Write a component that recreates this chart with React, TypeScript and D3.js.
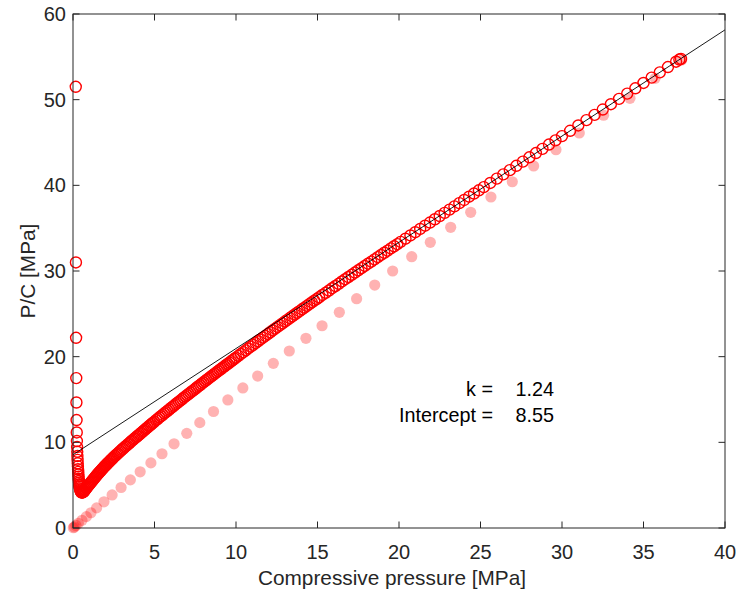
import React from "react";
import * as d3 from "d3";

// Open red circles: P/C vs compressive pressure
const pressure: number[] = [
  0.17, 0.18, 0.19, 0.2, 0.21, 0.22, 0.23, 0.24, 0.25, 0.26, 0.27, 0.28, 0.29, 0.3, 0.31, 0.32, 0.33, 0.34, 0.35, 0.36,
  0.37, 0.38, 0.39, 0.4, 0.42, 0.44, 0.46, 0.48, 0.5, 0.52, 0.55, 0.58, 0.61, 0.64, 0.67, 0.7,
  0.75, 0.8, 0.85, 0.9, 0.95, 1.0, 1.05, 1.1, 1.15, 1.2, 1.25, 1.3, 1.35, 1.4, 1.45, 1.5,
  1.55, 1.6, 1.65, 1.7, 1.75, 1.8, 1.85, 1.9, 1.95, 2.0, 2.05, 2.1, 2.15, 2.2, 2.25, 2.3, 2.35, 2.4, 2.45, 2.5,
  2.58, 2.66, 2.74, 2.82, 2.9, 2.98, 3.06, 3.14, 3.22, 3.3, 3.38, 3.46, 3.54, 3.62, 3.7, 3.78, 3.86, 3.94,
  4.02, 4.1, 4.18, 4.26, 4.34, 4.42, 4.5, 4.58, 4.66, 4.74, 4.82, 4.9, 4.98,
  5.1, 5.2, 5.3, 5.4, 5.5, 5.6, 5.7, 5.8, 5.9, 6.0, 6.1, 6.2, 6.3, 6.4, 6.5, 6.6, 6.7, 6.8, 6.9, 7.0,
  7.1, 7.2, 7.3, 7.4, 7.5, 7.6, 7.7, 7.8, 7.9, 8.0, 8.1, 8.2, 8.3, 8.4, 8.5, 8.6, 8.7, 8.8, 8.9, 9.0,
  9.1, 9.2, 9.3, 9.4, 9.5, 9.6, 9.7, 9.8, 9.9, 10.0,
  10.15, 10.3, 10.45, 10.6, 10.75, 10.9, 11.05, 11.2, 11.35, 11.5, 11.65, 11.8, 11.95, 12.1, 12.25, 12.4,
  12.55, 12.7, 12.85, 13.0, 13.15, 13.3, 13.45, 13.6, 13.75, 13.9, 14.05, 14.2, 14.35, 14.5, 14.65, 14.8, 14.95, 15.1,
  15.3, 15.5, 15.7, 15.9, 16.1, 16.3, 16.5, 16.7, 16.9, 17.1, 17.3, 17.5, 17.7, 17.9, 18.1, 18.3, 18.5, 18.7,
  18.9, 19.1, 19.3, 19.5, 19.7, 19.9, 20.1,
  20.4, 20.7, 21.0, 21.3, 21.6, 21.9, 22.2, 22.5, 22.8, 23.1, 23.4, 23.7, 24.0, 24.3, 24.6, 24.9, 25.2,
  25.6, 26.0, 26.4, 26.8, 27.2, 27.6, 28.0, 28.4, 28.8, 29.2, 29.6, 30.0,
  30.5, 31.0, 31.5, 32.0, 32.5, 33.0, 33.5, 34.0, 34.5, 35.0, 35.5, 36.0, 36.5, 37.0, 37.2, 37.3,
];
const pc: number[] = [
  51.5, 31.0, 22.2, 17.5, 14.65, 12.6, 11.15, 10.15, 9.45, 8.9, 8.4, 7.95, 7.55, 7.2, 6.85, 6.55, 6.25, 6.0, 5.75, 5.5,
  5.3, 5.1, 4.95, 4.8, 4.62, 4.48, 4.36, 4.27, 4.2, 4.16, 4.14, 4.15, 4.18, 4.23, 4.29, 4.36,
  4.48, 4.6, 4.72, 4.85, 4.97, 5.09, 5.21, 5.32, 5.44, 5.56, 5.68, 5.79, 5.91, 6.03, 6.14, 6.26,
  6.37, 6.47, 6.58, 6.68, 6.79, 6.89, 7.0, 7.1, 7.21, 7.31, 7.41, 7.5, 7.6, 7.69, 7.79, 7.89, 7.98, 8.08, 8.17, 8.27,
  8.41, 8.55, 8.69, 8.83, 8.97, 9.11, 9.25, 9.39, 9.52, 9.65, 9.79, 9.92, 10.06, 10.19, 10.32, 10.45, 10.58, 10.71,
  10.84, 10.97, 11.1, 11.23, 11.36, 11.49, 11.62, 11.75, 11.88, 12.01, 12.14, 12.27, 12.4,
  12.59, 12.74, 12.9, 13.05, 13.21, 13.37, 13.52, 13.68, 13.83, 13.99, 14.14, 14.29, 14.45, 14.6, 14.75, 14.9, 15.05, 15.21, 15.36, 15.51,
  15.66, 15.81, 15.95, 16.1, 16.25, 16.4, 16.55, 16.69, 16.84, 16.99, 17.14, 17.28, 17.43, 17.57, 17.72, 17.87, 18.01, 18.16, 18.3, 18.45,
  18.59, 18.74, 18.88, 19.03, 19.17, 19.31, 19.46, 19.6, 19.75, 19.89,
  20.1, 20.32, 20.53, 20.74, 20.96, 21.17, 21.38, 21.59, 21.8, 22.01, 22.22, 22.43, 22.64, 22.85, 23.06, 23.27,
  23.47, 23.68, 23.89, 24.1, 24.3, 24.51, 24.71, 24.92, 25.12, 25.32, 25.53, 25.73, 25.93, 26.13, 26.33, 26.53, 26.73, 26.93,
  27.2, 27.46, 27.72, 27.99, 28.25, 28.51, 28.78, 29.04, 29.3, 29.56, 29.82, 30.08, 30.33, 30.59, 30.85, 31.1, 31.36, 31.62,
  31.87, 32.13, 32.38, 32.64, 32.89, 33.14, 33.4,
  33.77, 34.15, 34.53, 34.91, 35.29, 35.66, 36.04, 36.42, 36.79, 37.17, 37.54, 37.92, 38.29, 38.67, 39.04, 39.42, 39.79,
  40.28, 40.78, 41.28, 41.77, 42.28, 42.77, 43.27, 43.77, 44.26, 44.76, 45.25, 45.75,
  46.37, 46.99, 47.61, 48.23, 48.85, 49.47, 50.09, 50.71, 51.33, 51.95, 52.57, 53.19, 53.81, 54.43, 54.68, 54.76,
];

// Filled pale-red dots
const pinkX: number[] = [
  0.02, 0.08, 0.18, 0.33, 0.55, 0.82, 1.1, 1.45, 1.9, 2.4, 2.95, 3.52, 4.12, 4.78, 5.46, 6.2, 6.98, 7.78, 8.62, 9.5,
  10.42, 11.33, 12.29, 13.27, 14.29, 15.28, 16.34, 17.4, 18.51, 19.61, 20.78, 21.92, 23.17, 24.4, 25.64, 26.95,
  28.26, 29.63, 31.06, 32.55, 34.17, 35.71, 37.34,
];
const pinkY: number[] = [
  0.03, 0.12, 0.3, 0.55, 0.9, 1.33, 1.78, 2.35, 3.06, 3.86, 4.73, 5.62, 6.56, 7.6, 8.67, 9.83, 11.05, 12.3, 13.6, 14.95,
  16.35, 17.74, 19.22, 20.66, 22.14, 23.61, 25.18, 26.77, 28.36, 30.0, 31.67, 33.35, 35.1, 36.85, 38.64, 40.42,
  42.26, 44.16, 46.11, 48.19, 50.16, 52.49, 54.63,
];

// Linear fit
const fitK = 1.24;
const fitIntercept = 8.55;
const fitRange: number[] = [0, 40];

const xTicks: number[] = [0, 5, 10, 15, 20, 25, 30, 35, 40];
const yTicks: number[] = [0, 10, 20, 30, 40, 50, 60];

const W = 737;
const H = 594;
const M = { left: 73, right: 725, top: 14, bottom: 528 };
const FONT = "'Liberation Sans', Arial, Helvetica, sans-serif";
const AX = "#262626";

export default function App() {
  const x = d3.scaleLinear().domain([0, 40]).range([M.left, M.right]);
  const y = d3.scaleLinear().domain([0, 60]).range([M.bottom, M.top]);
  const tl = 6.5;

  const fitLine = d3
    .line<number>()
    .x((v) => x(v))
    .y((v) => y(fitK * v + fitIntercept))(fitRange) as string;

  return (
    <svg
      width={W}
      height={H}
      style={{ position: "absolute", left: 0, top: 0, background: "#fff" }}
      fontFamily={FONT}
    >
      <defs>
        <clipPath id="plotclip">
          <rect x={M.left} y={M.top} width={M.right - M.left} height={M.bottom - M.top} />
        </clipPath>
      </defs>
      <rect x={0} y={0} width={W} height={H} fill="#fff" />

      {/* pale filled dots */}
      <g>
        {pinkX.map((px, i) => (
          <circle key={"p" + i} cx={x(px)} cy={y(pinkY[i])} r={5.6} fill="#ff0000" fillOpacity={0.3} />
        ))}
      </g>

      {/* open circles */}
      <g>
        {pressure.map((px, i) => (
          <circle
            key={"c" + i}
            cx={x(px)}
            cy={y(pc[i])}
            r={5.5}
            fill="none"
            stroke="#ff0000"
            strokeWidth={1.4}
          />
        ))}
      </g>

      {/* fit line */}
      <path d={fitLine} fill="none" stroke="#000" strokeWidth={0.9} clipPath="url(#plotclip)" />

      {/* axes box */}
      <rect
        x={M.left}
        y={M.top}
        width={M.right - M.left}
        height={M.bottom - M.top}
        fill="none"
        stroke={AX}
        strokeWidth={1}
      />
      {xTicks.map((t) => (
        <g key={"xt" + t}>
          <line x1={x(t)} x2={x(t)} y1={M.bottom} y2={M.bottom - tl} stroke={AX} strokeWidth={1} />
          <line x1={x(t)} x2={x(t)} y1={M.top} y2={M.top + tl} stroke={AX} strokeWidth={1} />
          <text x={x(t)} y={559} textAnchor="middle" fontSize={20} fill={AX}>
            {t}
          </text>
        </g>
      ))}
      {yTicks.map((t) => (
        <g key={"yt" + t}>
          <line x1={M.left} x2={M.left + tl} y1={y(t)} y2={y(t)} stroke={AX} strokeWidth={1} />
          <line x1={M.right} x2={M.right - tl} y1={y(t)} y2={y(t)} stroke={AX} strokeWidth={1} />
          <text x={66} y={y(t)} dy="0.35em" textAnchor="end" fontSize={20} fill={AX}>
            {t}
          </text>
        </g>
      ))}

      {/* axis labels */}
      <text x={392} y={585} textAnchor="middle" fontSize={20.8} fill={AX}>
        Compressive pressure [MPa]
      </text>
      <text
        transform={`translate(35, ${(M.top + M.bottom) / 2}) rotate(-90)`}
        textAnchor="middle"
        fontSize={20.8}
        fill={AX}
      >
        P/C [MPa]
      </text>

      {/* annotation */}
      <text x={493} y={396} textAnchor="end" fontSize={19.8} fill="#000">
        k =
      </text>
      <text x={554} y={396} textAnchor="end" fontSize={19.8} fill="#000">
        {fitK.toFixed(2)}
      </text>
      <text x={493} y={422} textAnchor="end" fontSize={19.8} fill="#000">
        Intercept =
      </text>
      <text x={554} y={422} textAnchor="end" fontSize={19.8} fill="#000">
        {fitIntercept.toFixed(2)}
      </text>
    </svg>
  );
}
